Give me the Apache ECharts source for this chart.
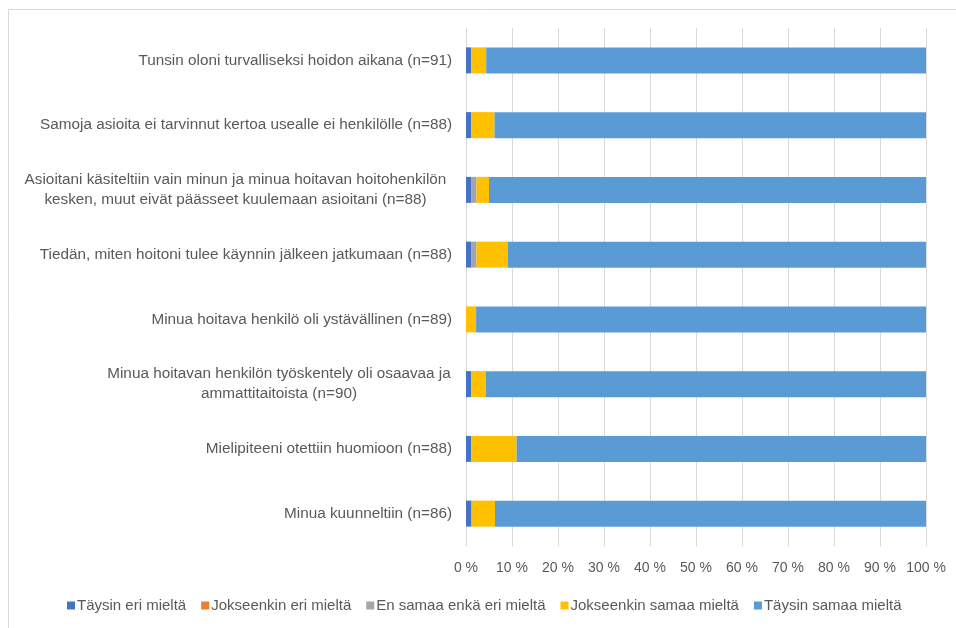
<!DOCTYPE html>
<html>
<head>
<meta charset="utf-8">
<script src="https://cdn.jsdelivr.net/npm/echarts@6/dist/echarts.min.js"></script>
<style>html,body{margin:0;padding:0;background:#fff}#c{width:956px;height:628px}</style>
</head>
<body>
<div id="c"></div>
<script>
const categories = [
  "Tunsin oloni turvalliseksi hoidon aikana (n=91)",
  "Samoja asioita ei tarvinnut kertoa usealle ei henkilölle (n=88)",
  "Asioitani käsiteltiin vain minun ja minua hoitavan hoitohenkilön\nkesken, muut eivät päässeet kuulemaan asioitani (n=88)",
  "Tiedän, miten hoitoni tulee käynnin jälkeen jatkumaan (n=88)",
  "Minua hoitava henkilö oli ystävällinen (n=89)",
  "Minua hoitavan henkilön työskentely oli osaavaa ja\nammattitaitoista (n=90)",
  "Mielipiteeni otettiin huomioon (n=88)",
  "Minua kuunneltiin (n=86)"
];
const seriesNames = ["Täysin eri mieltä", "Jokseenkin eri mieltä", "En samaa enkä eri mieltä", "Jokseenkin samaa mieltä", "Täysin samaa mieltä"];
const taysinEri      = [1.1, 1.1, 1.1, 1.1, 0,   1.1, 1.1, 1.2];
const jokseenkinEri  = [0,   0,   0,   0,   0,   0,   0,   0];
const enSamaa        = [0,   0,   1.2, 1.2, 0,   0,   0,   0];
const jokseenkinSamaa= [3.3, 5.1, 2.7, 6.8, 2.2, 3.2, 9.9, 5.1];
const taysinSamaa    = [95.6, 93.8, 95.0, 90.9, 97.8, 95.7, 89.0, 93.7];
const xTicks = [0,10,20,30,40,50,60,70,80,90,100];
const colors = ["#4472C4", "#ED7D31", "#A5A5A5", "#FFC000", "#5B9BD5"];
const values = [taysinEri, jokseenkinEri, enSamaa, jokseenkinSamaa, taysinSamaa];

const chart = echarts.init(document.getElementById('c'));
const font = "'Liberation Sans', Arial, sans-serif";
const fs = 15.3;
chart.setOption({
  animation: false,
  graphic: [{
    type: 'rect', shape: {x: 8.5, y: 9.5, width: 1000, height: 700},
    style: {fill: 'none', stroke: '#D9D9D9', lineWidth: 1}, silent: true
  }],
  grid: {left: 466, right: 30, top: 28, bottom: 82},
  legend: {
    bottom: 10, left: 62,
    itemWidth: 8, itemHeight: 8, itemGap: 15,
    icon: 'rect',
    textStyle: {fontFamily: font, fontSize: 15, color: '#595959', padding: [0,0,0,-3]},
    data: seriesNames
  },
  xAxis: {
    type: 'value', min: 0, max: 100, interval: 10,
    axisLine: {show: false}, axisTick: {show: false},
    splitLine: {lineStyle: {color: '#D9D9D9', width: 1}},
    axisLabel: {fontFamily: font, fontSize: 14, color: '#595959', margin: 15,
      formatter: v => xTicks.includes(v) ? v + ' %' : ''}
  },
  yAxis: {
    type: 'category', inverse: true, data: categories,
    axisLine: {show: false}, axisTick: {show: false},
    axisLabel: {
      fontFamily: font, fontSize: fs, color: '#595959', margin: 14, lineHeight: 20,
      formatter: function (v) {
        if (v.indexOf('\n') < 0) return v;
        const parts = v.split('\n');
        const key = parts[0].length > 55 ? 'w1' : 'w2';
        return parts.map(p => '{' + key + '|' + p + '}').join('\n');
      },
      rich: {
        w1: {width: 433, align: 'center', fontFamily: font, fontSize: fs, color: '#595959', lineHeight: 20},
        w2: {width: 346, align: 'center', fontFamily: font, fontSize: fs, color: '#595959', lineHeight: 20}
      }
    }
  },
  series: seriesNames.map((n, i) => ({
    name: n, type: 'bar', stack: 'all', barWidth: 26,
    itemStyle: {color: colors[i]},
    data: values[i]
  }))
});
</script>
</body>
</html>
